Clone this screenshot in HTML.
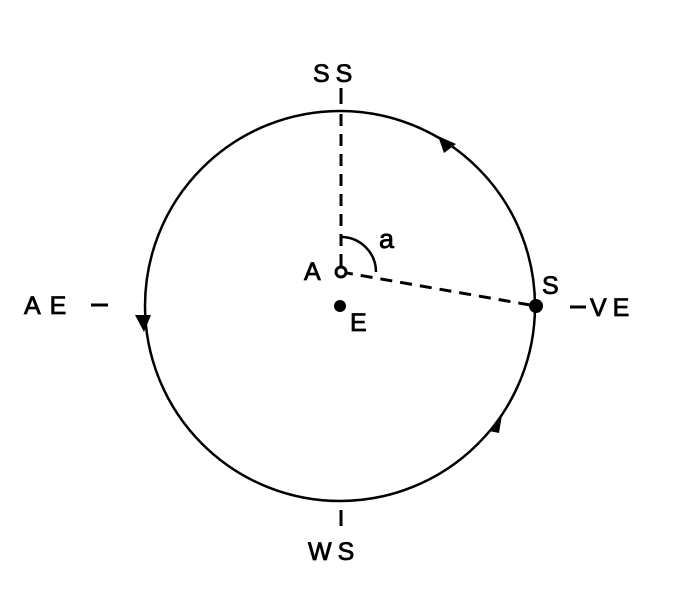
<!DOCTYPE html>
<html><head><style>html,body{margin:0;padding:0;background:#fff;}svg{display:block}</style></head>
<body>
<svg width="688" height="599" viewBox="0 0 688 599" xmlns="http://www.w3.org/2000/svg" font-family="Liberation Sans, sans-serif">
<rect width="688" height="599" fill="#fff"/>
<circle cx="340" cy="306" r="195" fill="none" stroke="#000" stroke-width="2.5"/>
<line x1="341" y1="114" x2="341" y2="270" stroke="#000" stroke-width="3" stroke-dasharray="12,8"/>
<line x1="341" y1="272" x2="536" y2="306" stroke="#000" stroke-width="3" stroke-dasharray="12,8"/>
<path d="M341 237 A35 35 0 0 1 376 272" fill="none" stroke="#000" stroke-width="2.5"/>
<circle cx="341" cy="272" r="5" fill="#fff" stroke="#000" stroke-width="3"/>
<circle cx="340" cy="306" r="6" fill="#000"/>
<circle cx="536" cy="306" r="7" fill="#000"/>
<line x1="341" y1="88" x2="341" y2="104" stroke="#000" stroke-width="3"/>
<line x1="341" y1="510" x2="341" y2="526" stroke="#000" stroke-width="3"/>
<line x1="91" y1="305" x2="108" y2="305" stroke="#000" stroke-width="3"/>
<line x1="570" y1="307" x2="586" y2="307" stroke="#000" stroke-width="3"/>
<polygon points="438,136 456,144 444,153" fill="#000"/>
<polygon points="135,315 151,315 144,332" fill="#000"/>
<polygon points="489,431 502,415 499,433" fill="#000"/>
<g font-size="25" fill="#000" stroke="#000" stroke-width="0.8">
<text x="313" y="82" letter-spacing="6">SS</text>
<text x="308" y="560" letter-spacing="6">WS</text>
<text x="24" y="314" letter-spacing="9">AE</text>
<text x="590" y="316" letter-spacing="6">VE</text>
<text x="304" y="280">A</text>
<text x="350" y="331">E</text>
<text x="542" y="294">S</text>
<text x="379" y="248" font-size="27">a</text>
</g>
</svg>
</body></html>
